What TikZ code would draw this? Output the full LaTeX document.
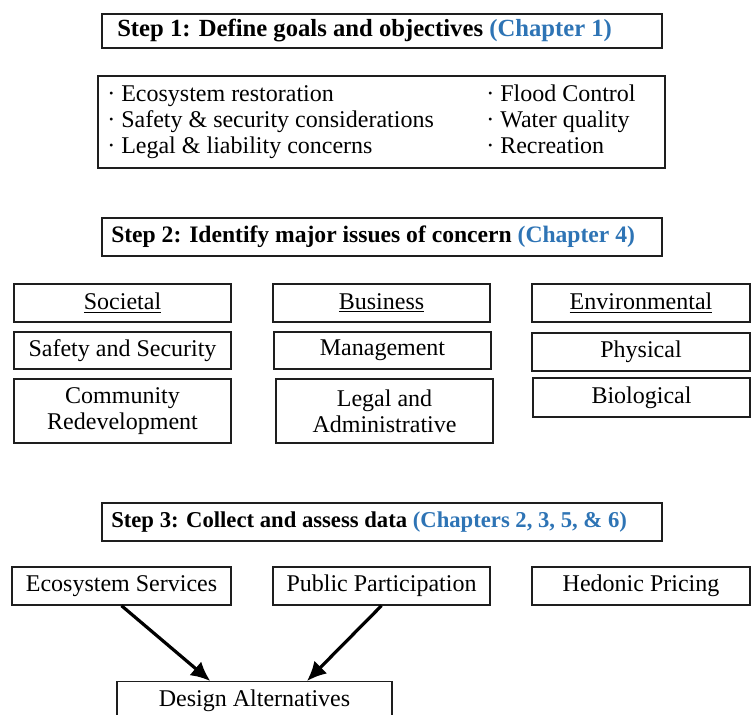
\documentclass[tikz,border=0pt]{standalone}
\usepackage{fontspec}
\setmainfont{Liberation Serif}
\usetikzlibrary{arrows.meta,calc}
\definecolor{chap}{RGB}{46,116,181}
\definecolor{edge}{RGB}{30,30,30}
\begin{document}
\begin{tikzpicture}[x=0.75pt,y=-0.75pt,
  bx/.style 2 args={draw=edge, line width=1pt, minimum width=#1*0.75pt, minimum height=#2*0.75pt, inner sep=0pt, align=center, font=\fontsize{18}{19.5}\selectfont},
  stp/.style={inner sep=0pt, font=\bfseries\fontsize{#1}{19.5}\selectfont},
  txt/.style={inner sep=0pt, align=left, font=\fontsize{18}{19.5}\selectfont},
  arr/.style={line width=2.4pt, -{Latex[length=14.5pt,width=13.5pt]}}]
\useasboundingbox (0,0) rectangle (756,714);
\clip (0,0) rectangle (756,714);
% Step 1
\node[bx={560}{34}] (s1) at (382,31) {};
\node[stp=18.5, anchor=west] (s1t) at (117,31) {Step 1: Define goals and objectives \textcolor{chap}{(Chapter 1)}};
% goals box
\node[bx={567}{92}] (goals) at (381.5,122) {};
\node[txt, anchor=west] (gl) at (107,122) {\strut· Ecosystem restoration\\\strut· Safety \& security considerations\\\strut· Legal \& liability concerns};
\node[txt, anchor=west] (gr) at (486,122) {\strut· Flood Control\\\strut· Water quality\\\strut· Recreation};
% Step 2
\node[bx={560}{38}] (s2) at (382,237) {};
\node[stp=17.7, anchor=west] (s2t) at (111,237) {Step 2: Identify major issues of concern \textcolor{chap}{(Chapter 4)}};
\node[bx={217}{38}] (soc) at (122.5,303) {\underline{Societal}};
\node[bx={217}{38}] (bus) at (381.5,303) {\underline{Business}};
\node[bx={218}{38}] (env) at (641,303) {\underline{Environmental}};
\node[bx={217}{37}] (saf) at (122.5,350.5) {Safety and Security};
\node[bx={217}{37}] (man) at (382.5,350.5) {Management};
\node[bx={218}{38}] (phy) at (641,352) {Physical};
\node[bx={217}{64}] (com) at (122.5,411) {Community\\Redevelopment};
\node[bx={217}{64}] (leg) at (384.5,411) {Legal and\\Administrative};
\node[bx={217}{39}] (bio) at (641.5,397.5) {Biological};
% Step 3
\node[bx={560}{38}] (s3) at (382,522) {};
\node[stp=17, anchor=west] (s3t) at (111,522) {Step 3: Collect and assess data \textcolor{chap}{(Chapters 2, 3, 5, \& 6)}};
\node[bx={219}{38}] (eco) at (121.5,586) {Ecosystem Services};
\node[bx={217}{38}] (pub) at (381.5,586) {Public Participation};
\node[bx={218}{38}] (hed) at (641,586) {Hedonic Pricing};
\node[bx={275}{44}, anchor=north] (des) at (254.5,681) {};
\node[txt, anchor=base] (dest) at (254.5,706) {Design Alternatives};
\draw[arr] (eco.south) -- ($(des.north west)!0.34!(des.north east)$);
\draw[arr] (pub.south) -- ($(des.north west)!0.69!(des.north east)$);
\end{tikzpicture}
\end{document}
